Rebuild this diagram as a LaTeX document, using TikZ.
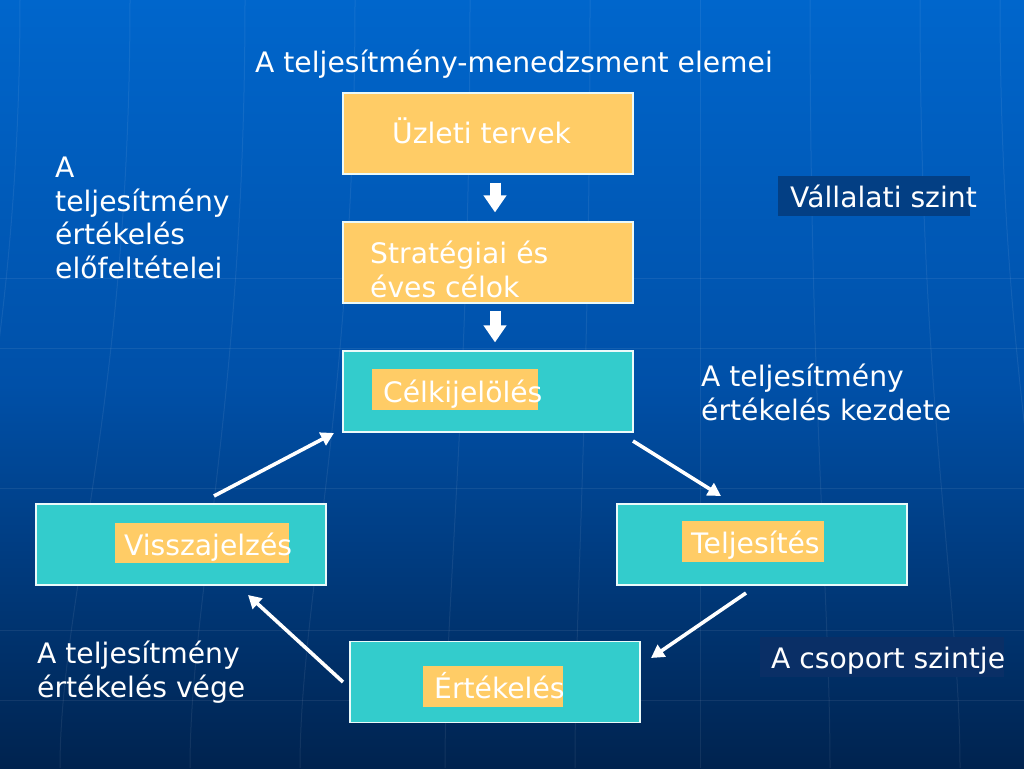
\documentclass[tikz,border=0pt]{standalone}
\usepackage{fontspec}
\setmainfont{DejaVu Sans}
\usetikzlibrary{arrows.meta}
\definecolor{bgtop}{HTML}{0066CC}
\definecolor{bgmid}{HTML}{0050A8}
\definecolor{bgbot}{HTML}{00234F}
\definecolor{boxorange}{HTML}{FFCC66}
\definecolor{boxteal}{HTML}{33CCCC}
\definecolor{navytop}{HTML}{033F84}
\definecolor{navybot}{HTML}{0A2F66}
\tikzset{
  bigbox/.style={draw=white!90!boxteal, line width=1.2pt, minimum width=290pt, minimum height=81pt, inner sep=0pt},
  orangebox/.style={bigbox, fill=boxorange},
  tealbox/.style={bigbox, fill=boxteal},
  txt/.style={text=white, inner sep=0pt, anchor=base west, align=left, font=\fontsize{28.2}{33.5}\selectfont},
  blockarrow/.style={draw=white, line width=11pt, -{Triangle[width=22pt,length=17pt]}},
  thinarrow/.style={draw=white, line width=3.6pt, -{Triangle[width=14pt,length=13pt]}},
  gridline/.style={draw=white, opacity=0.07, line width=1pt},
}
\begin{document}
\begin{tikzpicture}[x=1pt,y=-1pt]
\useasboundingbox (0,0) rectangle (1024,768);
% background
\shade[top color=bgtop, bottom color=bgbot, middle color=bgmid] (0,0) rectangle (1024,768);
% faint globe grid
\foreach \yy in {278,348,488,630,700} \draw[gridline] (0,\yy) -- (1024,\yy);
\foreach \xa/\xb in {20/-60,130/60,245/190,355/300,470/445,590/575,700/700,810/830,920/960,1000/1060}
  \draw[gridline] (\xa,0) .. controls (\xa,400) and (\xb,600) .. (\xb,768);
% title
\node[txt] (title) at (255,72) {A teljesítmény-menedzsment elemei};
% main boxes
\node[orangebox] (uzl) at (488,133.5) {};
\node[txt] (uzlt) at (392,143) {Üzleti tervek};
\node[orangebox] (str) at (488,262.5) {};
\node[txt] (strt) at (370,297) {Stratégiai és\\éves célok};
\node[tealbox] (cel) at (488,391.5) {};
\node[fill=boxorange, minimum width=166pt, minimum height=41pt, inner sep=0pt] (celh) at (455,389.5) {};
\node[txt] (celt) at (383,402) {Célkijelölés};
\node[tealbox] (vis) at (181,544.5) {};
\node[fill=boxorange, minimum width=174pt, minimum height=40pt, inner sep=0pt] (vish) at (202,543) {};
\node[txt] (vist) at (124,555) {Visszajelzés};
\node[tealbox] (tel) at (762,544.5) {};
\node[fill=boxorange, minimum width=142pt, minimum height=41pt, inner sep=0pt] (telh) at (753,541.5) {};
\node[txt] (telt) at (691,553) {Teljesítés};
\node[tealbox] (ert) at (495,682) {};
\node[fill=boxorange, minimum width=140pt, minimum height=41pt, inner sep=0pt] (erth) at (493,686.5) {};
\node[txt] (ertt) at (434,698) {Értékelés};
% side labels
\node[txt] (pre) at (55,278) {A\\teljesítmény\\értékelés\\előfeltételei};
\node[fill=navytop, minimum width=192pt, minimum height=40pt, inner sep=0pt] (valb) at (874,195.5) {};
\node[txt] (val) at (790,207) {Vállalati szint};
\node[txt] (kez) at (701,420) {A teljesítmény\\értékelés kezdete};
\node[txt] (veg) at (37,697) {A teljesítmény\\értékelés vége};
\node[fill=navybot, minimum width=244pt, minimum height=40pt, inner sep=0pt] (csb) at (882,657) {};
\node[txt] (cs) at (771,668) {A csoport szintje};
% block arrows
\draw[blockarrow] ([xshift=7pt,yshift=-8pt]uzl.south) -- ([xshift=7pt,yshift=9pt]str.north);
\draw[blockarrow] ([xshift=7pt,yshift=-7pt]str.south) -- ([xshift=7pt,yshift=8pt]cel.north);
% cycle arrows
\coordinate (a1s) at (214,496);
\coordinate (a1e) at (334,433);
\coordinate (a2s) at (633,441);
\coordinate (a2e) at (721,496);
\coordinate (a3s) at (746,593);
\coordinate (a3e) at (651,658);
\coordinate (a4s) at (343,682);
\coordinate (a4e) at (248,595);
\draw[thinarrow] (a1s) -- (a1e);
\draw[thinarrow] (a2s) -- (a2e);
\draw[thinarrow] (a3s) -- (a3e);
\draw[thinarrow] (a4s) -- (a4e);
\end{tikzpicture}
\end{document}
